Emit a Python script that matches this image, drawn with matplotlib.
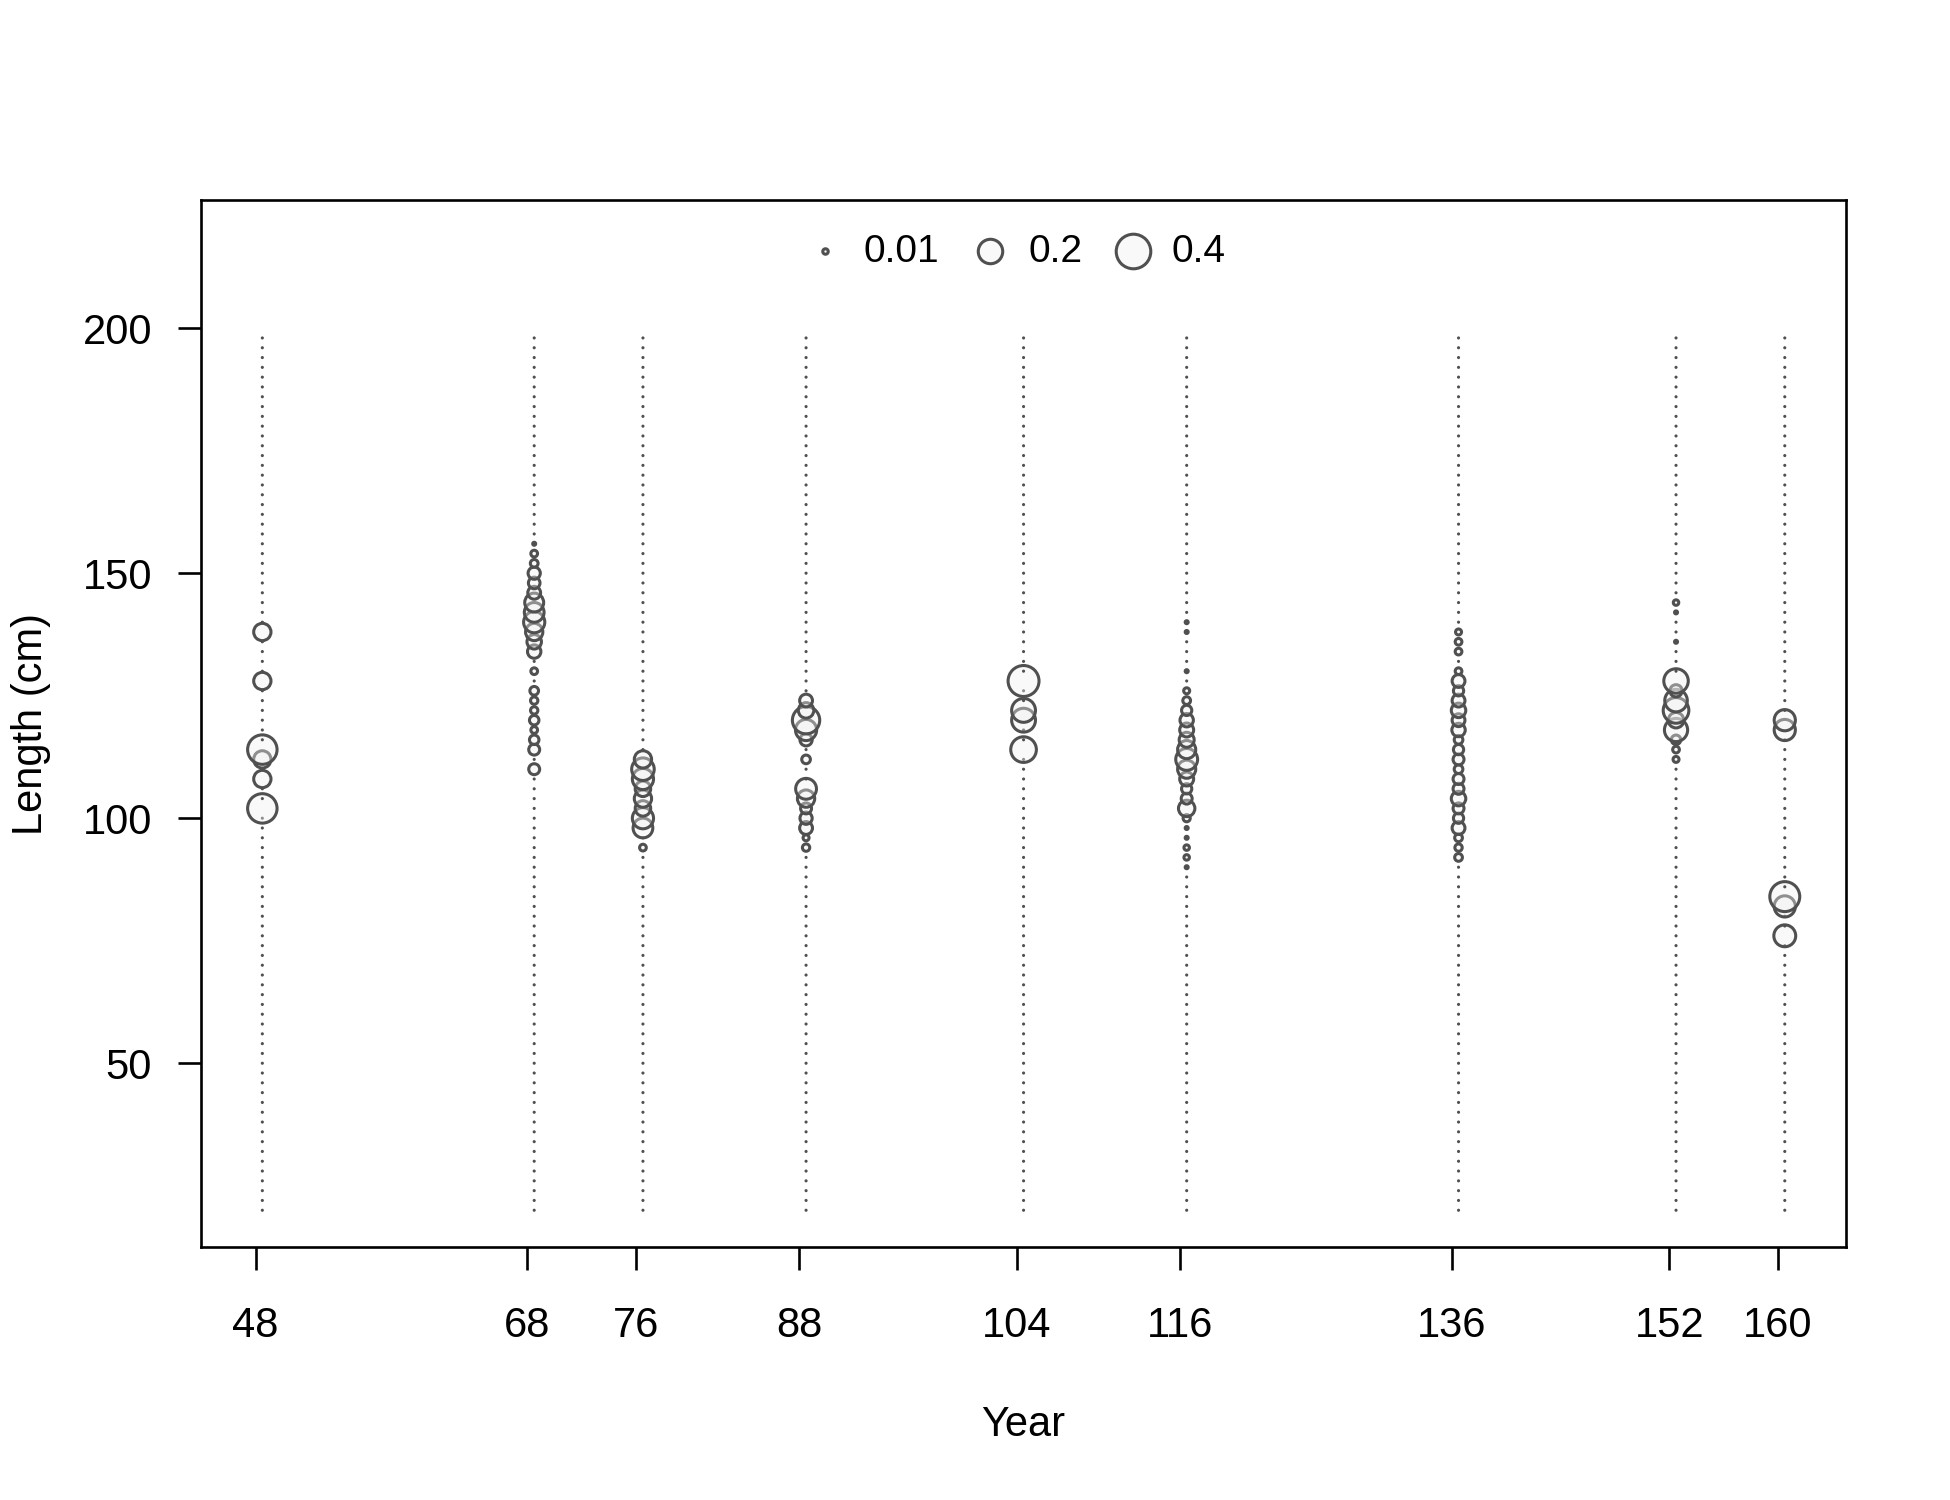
import numpy as np
import matplotlib
matplotlib.use("Agg")
import matplotlib.pyplot as plt

plt.rcParams['font.family'] = ['Liberation Sans', 'DejaVu Sans']

# length bins (cm) and sampled years
bins = np.arange(20, 199, 2)
years = [48, 68, 76, 88, 104, 116, 136, 152, 160]

# observed proportions at length, per year (bins not listed are zero)
len_48 = [102, 108, 112, 114, 128, 138]
prop_48 = [0.29, 0.10, 0.10, 0.29, 0.10, 0.10]

len_68 = [110, 114, 116, 118, 120, 122, 124, 126, 130, 134, 136, 138, 140,
          142, 144, 146, 148, 150, 152, 154, 156]
prop_68 = [0.04, 0.04, 0.03, 0.015, 0.03, 0.018, 0.018, 0.025, 0.015, 0.06,
           0.07, 0.10, 0.15, 0.13, 0.12, 0.055, 0.045, 0.05, 0.02, 0.015, 0.003]

len_76 = [94, 98, 100, 102, 104, 106, 108, 110, 112]
prop_76 = [0.015, 0.13, 0.15, 0.08, 0.10, 0.08, 0.15, 0.17, 0.10]

len_88 = [94, 96, 98, 100, 102, 104, 106, 112, 116, 118, 120, 122, 124]
prop_88 = [0.018, 0.012, 0.055, 0.05, 0.04, 0.10, 0.145, 0.025, 0.05, 0.15,
           0.25, 0.08, 0.055]

len_104 = [114, 120, 122, 128]
prop_104 = [0.22, 0.19, 0.19, 0.32]

len_116 = [90, 92, 94, 96, 98, 100, 102, 104, 106, 108, 110, 112, 114, 116,
           118, 120, 122, 124, 126, 130, 138, 140]
prop_116 = [0.003, 0.01, 0.01, 0.003, 0.003, 0.017, 0.09, 0.04, 0.035, 0.065,
            0.11, 0.16, 0.11, 0.075, 0.065, 0.06, 0.035, 0.02, 0.012, 0.003,
            0.003, 0.003]

len_136 = [92, 94, 96, 98, 100, 102, 104, 106, 108, 110, 112, 114, 116, 118,
           120, 122, 124, 126, 128, 130, 134, 136, 138]
prop_136 = [0.02, 0.018, 0.02, 0.055, 0.035, 0.04, 0.07, 0.04, 0.04, 0.025,
            0.04, 0.035, 0.025, 0.06, 0.055, 0.07, 0.055, 0.035, 0.055, 0.015,
            0.015, 0.015, 0.012]

len_152 = [112, 114, 116, 118, 120, 122, 124, 126, 128, 136, 142, 144]
prop_152 = [0.012, 0.015, 0.03, 0.18, 0.08, 0.22, 0.17, 0.05, 0.20, 0.003,
            0.003, 0.01]

len_160 = [76, 82, 84, 118, 120]
prop_160 = [0.16, 0.15, 0.30, 0.15, 0.15]

comp_len = [len_48, len_68, len_76, len_88, len_104, len_116, len_136, len_152, len_160]
comp_prop = [prop_48, prop_68, prop_76, prop_88, prop_104, prop_116, prop_136, prop_152, prop_160]

legend_vals = [0.01, 0.2, 0.4]

edge = '#505050'
fill = (0.94, 0.94, 0.94, 0.4)
size_k = 1550.0   # points^2 per unit proportion
lw = 2.2

xs, ys, ss, fcs, lws = [], [], [], [], []
for yr, lens, props in zip(years, comp_len, comp_prop):
    lookup = dict(zip(lens, props))
    for b in bins:
        p = lookup.get(int(b), 0.0)
        xs.append(yr + 0.5)
        ys.append(b)
        if p > 0:
            ss.append(size_k * p)
            fcs.append(fill)
            lws.append(lw)
        else:
            ss.append(5.0)
            fcs.append(edge)
            lws.append(0.0)

fig = plt.figure(figsize=(19.5, 15), dpi=100)
ax = fig.add_axes([0.1033, 0.1685, 0.8432, 0.698])

ax.scatter(xs, ys, s=ss, facecolors=fcs, edgecolors=edge, linewidths=lws)

handles = []
for v in legend_vals:
    h = ax.scatter([], [], s=size_k * v, facecolors=fill, edgecolors=edge,
                   linewidths=lw, label=str(v))
    handles.append(h)
ax.legend(handles=handles, loc='center', bbox_to_anchor=(0.495, 0.951), ncol=3,
          frameon=False, fontsize=28, scatterpoints=1, handlelength=1.0,
          handletextpad=0.49, columnspacing=0.8)

ax.set_xlim(44.02, 164.98)
ax.set_ylim(12.45, 226.1)
ax.set_xticks(years)
ax.set_yticks([50, 100, 150, 200])
ax.tick_params(axis='both', labelsize=30, length=16.5, width=1.9, direction='out')
ax.tick_params(axis='x', pad=26)
ax.tick_params(axis='y', pad=19)
for sp in ax.spines.values():
    sp.set_linewidth(1.9)

ax.set_xlabel('Year', fontsize=30)
ax.set_ylabel('Length (cm)', fontsize=30)
ax.xaxis.set_label_coords(0.5, -0.17)
ax.xaxis.label.set_va('center')
ax.yaxis.set_label_coords(-0.1037, 0.5)
ax.yaxis.label.set_va('center')

fig.savefig('out.png', dpi=100)
